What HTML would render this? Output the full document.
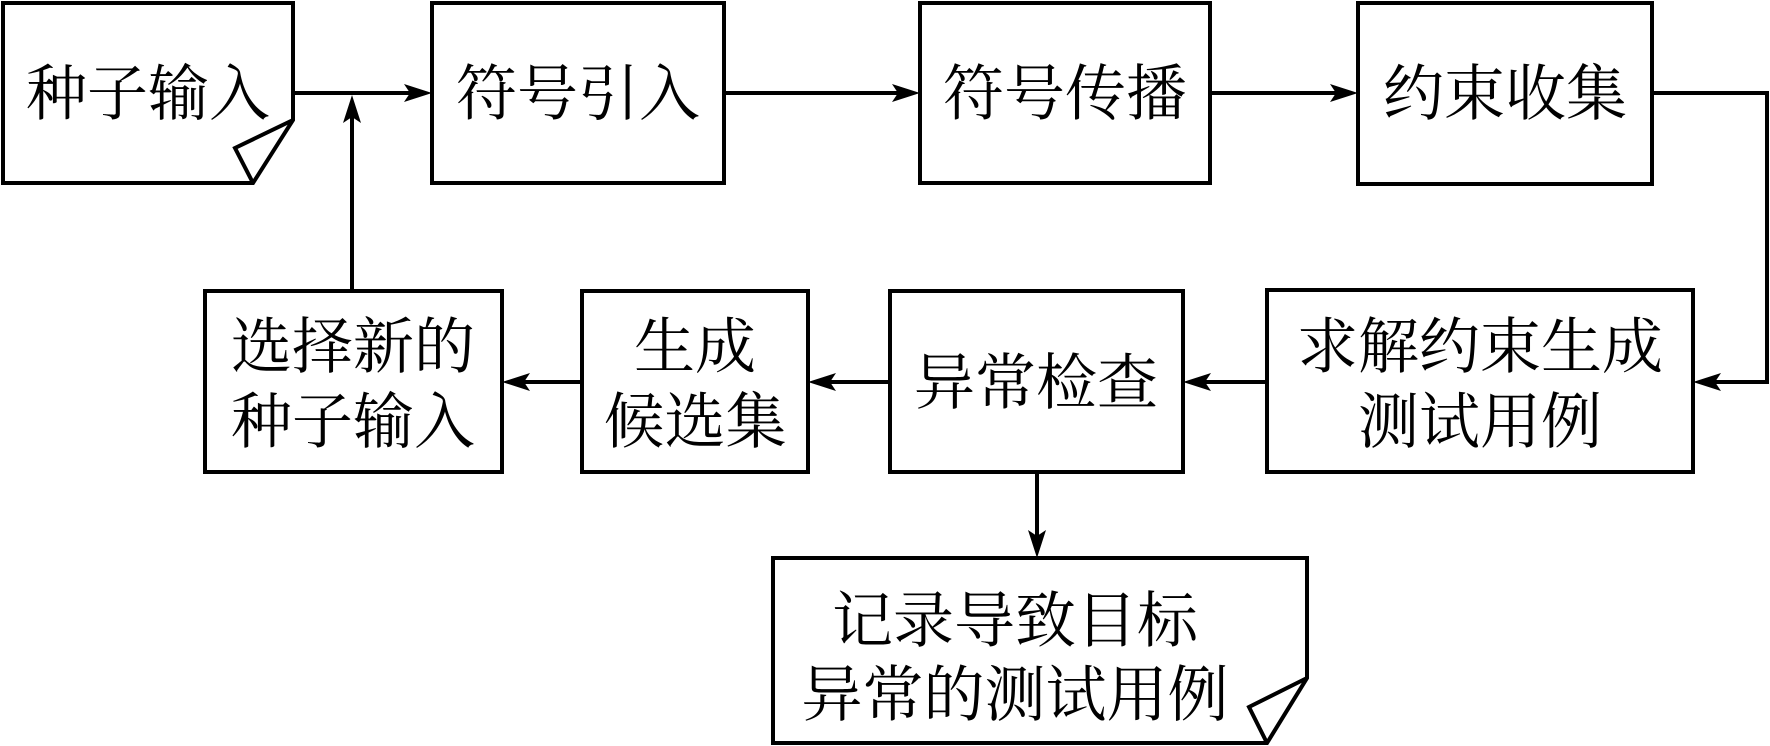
<!DOCTYPE html>
<html><head><meta charset="utf-8"><style>
html,body{margin:0;padding:0;background:#fff;}
svg{display:block;}
text{font-family:"Liberation Serif","Noto Serif CJK SC",serif;font-size:61px;fill:#000;text-anchor:middle;dominant-baseline:central;}
</style></head><body>
<svg width="1770" height="746" viewBox="0 0 1770 746" xmlns="http://www.w3.org/2000/svg">
<g fill="none" stroke="#000" stroke-width="4">
<path d="M3,3 H293 V120 L253,183 H3 Z"/>
<path d="M293,120 L235,148 L253,183"/>
<rect x="432" y="3" width="292" height="180"/>
<rect x="920" y="3" width="290" height="180"/>
<rect x="1358" y="3" width="294" height="181"/>
<rect x="1267" y="290" width="426" height="182"/>
<rect x="890" y="291" width="293" height="181"/>
<rect x="582" y="291" width="226" height="181"/>
<rect x="205" y="291" width="297" height="181"/>
<path d="M773,558 H1307 V678 L1267,743 H773 Z"/>
<path d="M1307,678 L1249,707 L1267,743"/>
<path d="M293,93 H420"/>
<path d="M724,93 H908"/>
<path d="M1210,93 H1346"/>
<path d="M1652,93 H1767 V382 H1705"/>
<path d="M1267,382 H1195"/>
<path d="M890,382 H820"/>
<path d="M582,382 H514"/>
<path d="M352,291 V107"/>
<path d="M1037,472 V546"/>
</g>
<g fill="#000">
<path d="M432,93 L404,84 L410,93 L404,102 Z"/>
<path d="M920,93 L892,84 L898,93 L892,102 Z"/>
<path d="M1358,93 L1330,84 L1336,93 L1330,102 Z"/>
<path d="M1693,382 L1721,373 L1715,382 L1721,391 Z"/>
<path d="M1183,382 L1211,373 L1205,382 L1211,391 Z"/>
<path d="M808,382 L836,373 L830,382 L836,391 Z"/>
<path d="M502,382 L530,373 L524,382 L530,391 Z"/>
<path d="M352,95 L343,123 L352,117 L361,123 Z"/>
<path d="M1037,558 L1028,530 L1037,536 L1046,530 Z"/>
</g>
<text x="148" y="95">种子输入</text>
<text x="578" y="95">符号引入</text>
<text x="1065" y="95">符号传播</text>
<text x="1505" y="95">约束收集</text>
<text x="1480" y="348">求解约束生成</text>
<text x="1480" y="423">测试用例</text>
<text x="1036" y="384">异常检查</text>
<text x="695" y="348">生成</text>
<text x="695" y="423">候选集</text>
<text x="353" y="348">选择新的</text>
<text x="353" y="423">种子输入</text>
<text x="1015" y="622">记录导致目标</text>
<text x="1015" y="696">异常的测试用例</text>
</svg>
</body></html>
